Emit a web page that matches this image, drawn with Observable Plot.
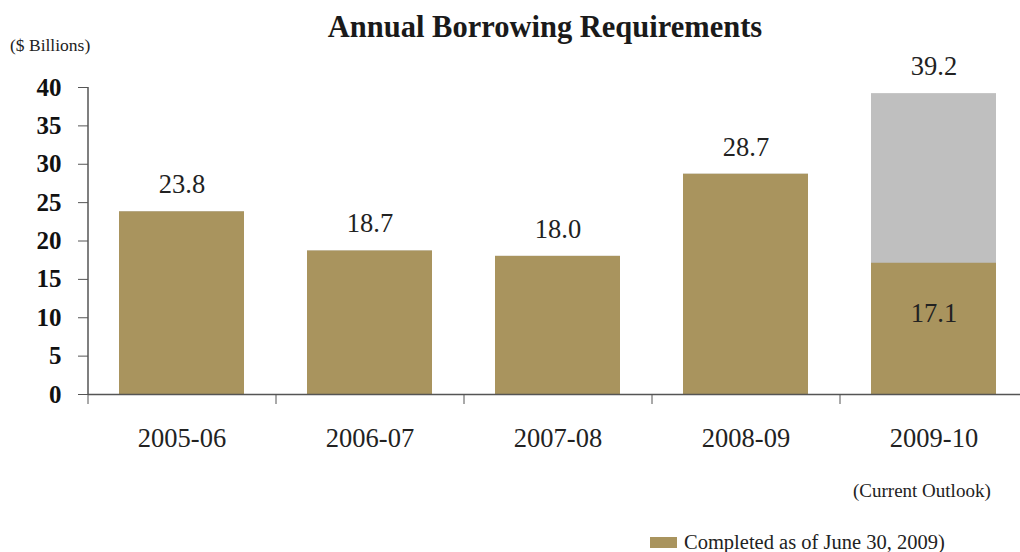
<!DOCTYPE html>
<html>
<head>
<meta charset="utf-8">
<script src="https://cdn.jsdelivr.net/npm/d3@7"></script>
<script src="https://cdn.jsdelivr.net/npm/@observablehq/plot@0.6"></script>
<style>
  html, body { margin: 0; padding: 0; background: #fff; }
  body { width: 1020px; height: 552px; position: relative; overflow: hidden; font-family: "Liberation Serif", "DejaVu Serif", serif; color: #222; }
  #title { position: absolute; top: 9px; left: 0; width: 1090px; text-align: center; font-weight: bold; font-size: 30.5px; line-height: 36px; color: #1a1a1a; }
  #unit { position: absolute; top: 35px; left: 10px; font-size: 17.5px; line-height: 20px; color: #222; }
  #chart { position: absolute; top: 0; left: 0; }
  #outlook { position: absolute; top: 480px; left: 853px; font-size: 19px; line-height: 22px; color: #222; }
  #legend { position: absolute; top: 530px; left: 650px; font-size: 20.5px; line-height: 24px; color: #222; display: flex; align-items: center; white-space: nowrap; }
  #legend .sw { display: inline-block; width: 27px; height: 11px; background: #A9945E; margin-right: 7px; }
</style>
</head>
<body>
<div id="title">Annual Borrowing Requirements</div>
<div id="unit">($ Billions)</div>
<div id="chart"></div>
<div id="outlook">(Current Outlook)</div>
<div id="legend"><span class="sw"></span><span>Completed as of June 30, 2009)</span></div>
<script>
const categories = ["2005-06", "2006-07", "2007-08", "2008-09", "2009-10"];
const completed = [23.8, 18.7, 18.0, 28.7, 17.1];
const totals = [23.8, 18.7, 18.0, 28.7, 39.2];
const yTicks = [0, 5, 10, 15, 20, 25, 30, 35, 40];

const gold = "#A9945E";
const gray = "#BFBFBF";
const axisColor = "#555";

const rows = categories.map((c, i) => ({cat: c, completed: completed[i], total: totals[i]}));
const partial = rows.filter(d => d.total !== d.completed);

const chart = Plot.plot({
  width: 1020,
  height: 470,
  marginTop: 87,
  marginBottom: 76,
  marginLeft: 88,
  marginRight: 0,
  style: {fontFamily: "'Liberation Serif', serif", background: "transparent", overflow: "visible"},
  x: {domain: categories, range: [88, 1028], paddingInner: 0.335, paddingOuter: 0.1675, align: 0.5},
  y: {domain: [0, 40]},
  marks: [
    Plot.barY(rows, {x: "cat", y: "total", fill: gray}),
    Plot.barY(rows, {x: "cat", y: "completed", fill: gold}),
    Plot.ruleY([0], {stroke: axisColor, strokeWidth: 1.5}),
    Plot.ruleX(categories.slice(0, 1), {x: d => d, dx: -94, y1: 0, y2: 40, stroke: axisColor, strokeWidth: 1.5}),
    Plot.axisY({ticks: yTicks, tickSize: 10, tickPadding: 17, tickFormat: d => String(d), fontSize: 25, fontWeight: "bold", color: "#111", stroke: axisColor, label: null}),
    Plot.axisX({ticks: categories.slice(0, 4), tickSize: 10, dx: 94, text: null, stroke: axisColor, label: null}),
    Plot.axisX({ticks: categories.slice(0, 1), tickSize: 10, dx: -94, text: null, stroke: axisColor, label: null}),
    Plot.axisX({tickSize: 0, tickPadding: 34, fontSize: 26.5, color: "#222", label: null}),
    Plot.text(rows, {x: "cat", y: "total", text: d => d.total.toFixed(1), dy: -27, fontSize: 26.5, fill: "#222"}),
    Plot.text(partial, {x: "cat", y: "completed", text: d => d.completed.toFixed(1), dy: 50, fontSize: 26.5, fill: "#222"})
  ]
});
document.getElementById("chart").appendChild(chart);
</script>
</body>
</html>
